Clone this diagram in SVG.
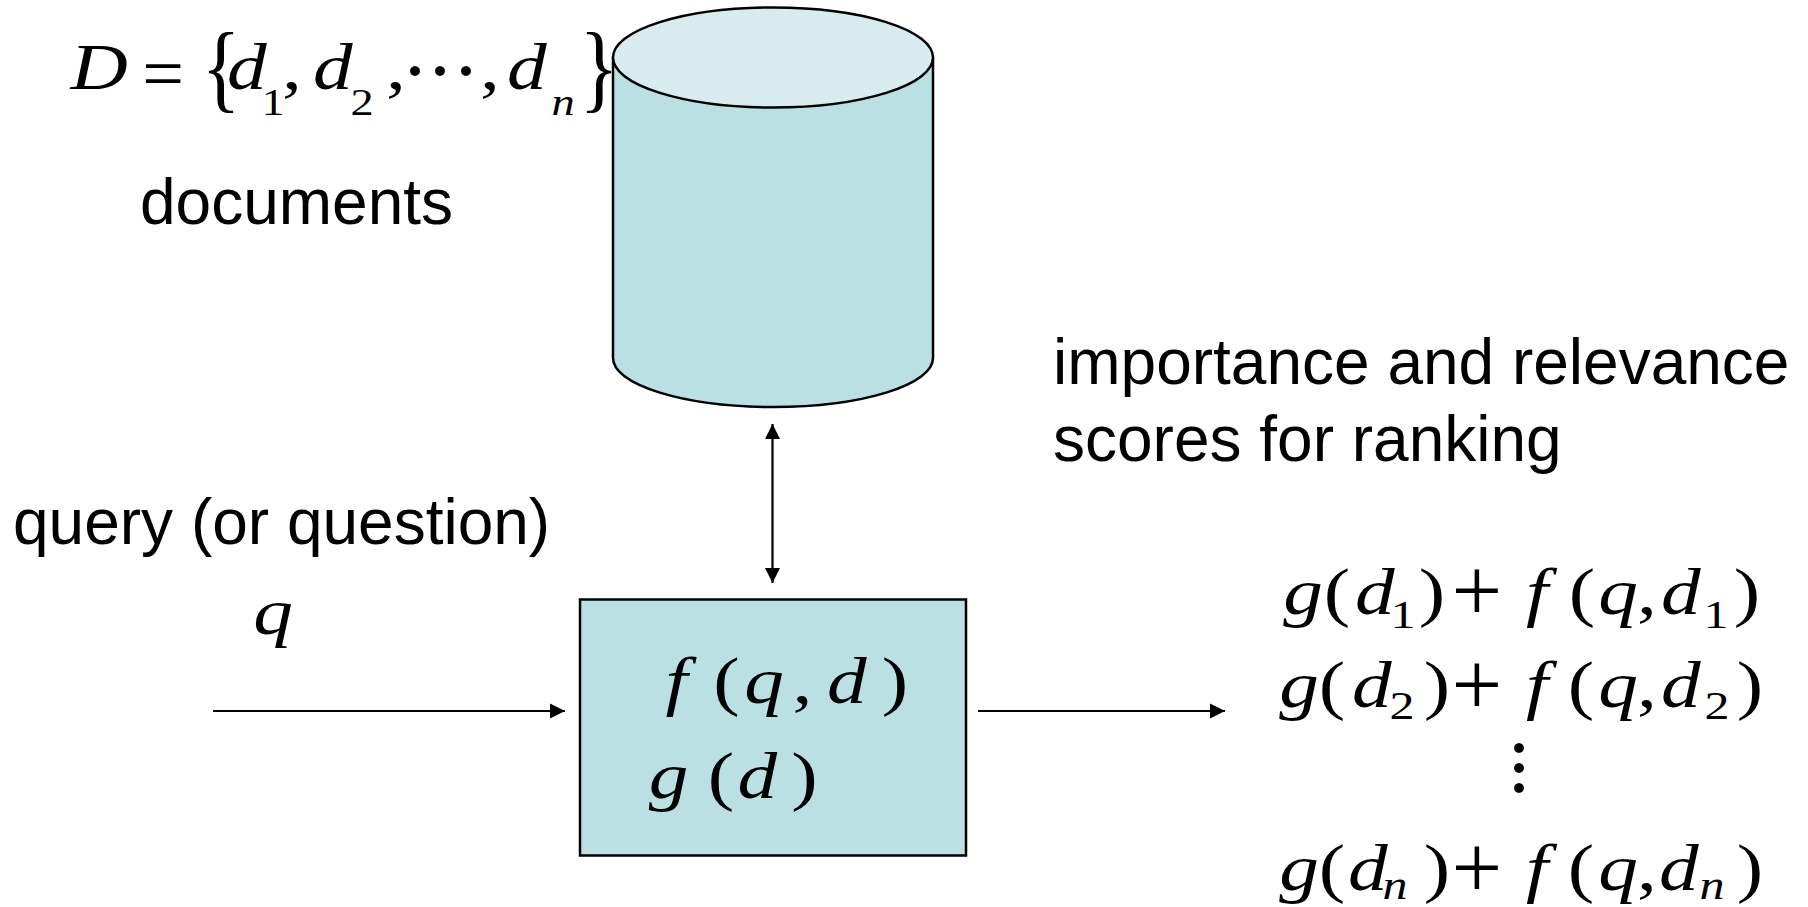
<svg xmlns="http://www.w3.org/2000/svg" width="1808" height="907" viewBox="0 0 1808 907">
<style>
.lbl{font-family:"Liberation Sans",Arial,sans-serif;font-size:64px;fill:#000}
.m{font-family:"Liberation Serif","Times New Roman",serif;font-size:65px;fill:#000;text-anchor:middle}
.w{transform-box:fill-box;transform-origin:center;transform:scaleX(1.22)}
.i{font-style:italic}
.s{font-size:41px}
.ds{font-size:38px}
.pl{font-size:90px}
.dot{font-size:84px}
.shape{stroke:#000;stroke-width:2.5}
.conn{stroke:#000;stroke-width:2.2;fill:none}
</style>
<defs>
<marker id="ah" viewBox="0 0 10 10" refX="10" refY="5" markerWidth="15" markerHeight="16" markerUnits="userSpaceOnUse" orient="auto-start-reverse">
<path d="M0,0 L10,5 L0,10 Z" fill="#000"/>
</marker>
</defs>
<rect width="1808" height="907" fill="#fff"/>

<g id="documents-db">
<path class="shape" fill="#BAE0E3" d="M613,58 L613,358 A160,49 0 0 0 933,358 L933,58 Z"/>
<ellipse class="shape" fill="#D8ECEF" cx="773" cy="57.5" rx="160" ry="50"/>
</g>

<g id="doc-set-label">
<text class="m i w" x="99" y="89">D</text>
<text class="m" x="163" y="97.5" style="font-size:74px">=</text>
<text class="m" transform="translate(221,75.5) scale(1.25,1.5)" x="0" y="16.5">{</text>
<text class="m i w" x="247" y="89">d</text>
<text class="m ds w" x="273" y="115">1</text>
<text class="m w" x="292" y="89">,</text>
<text class="m i w" x="333" y="89">d</text>
<text class="m ds w" x="362" y="115">2</text>
<text class="m w" x="396" y="89">,</text>
<text class="m dot"><tspan x="415" y="99">·</tspan><tspan x="440" y="99">·</tspan><tspan x="466" y="99">·</tspan></text>
<text class="m w" x="490" y="89">,</text>
<text class="m i w" x="527" y="89">d</text>
<text class="m i ds w" x="563" y="115">n</text>
<text class="m" transform="translate(599,75.5) scale(1.25,1.5)" x="0" y="16.5">}</text>
<text class="lbl" x="140" y="224">documents</text>
</g>

<g id="scores-label">
<text class="lbl" x="1053" y="384">importance and relevance</text>
<text class="lbl" x="1053" y="461">scores for ranking</text>
</g>

<g id="query-label">
<text class="lbl" x="13" y="544">query (or question)</text>
<text class="m i w" x="273" y="634">q</text>
</g>

<g id="ranker">
<rect class="shape" fill="#BAE0E3" x="580" y="599.5" width="386" height="256"/>
<text class="m i w" x="677.5" y="703">f</text>
<text class="m w" x="726.5" y="703">(</text>
<text class="m i w" x="764" y="703">q</text>
<text class="m w" x="802.5" y="703">,</text>
<text class="m i w" x="847" y="703">d</text>
<text class="m w" x="895" y="703">)</text>
<text class="m i w" x="668.5" y="798">g</text>
<text class="m w" x="721" y="798">(</text>
<text class="m i w" x="757.5" y="798">d</text>
<text class="m w" x="804.5" y="798">)</text>
</g>

<g id="results">
<g id="row1">
<text class="m i w" x="1303" y="614">g</text>
<text class="m w" x="1337" y="614">(</text>
<text class="m i w" x="1375" y="614">d</text>
<text class="m s w" x="1403" y="628">1</text>
<text class="m w" x="1432" y="614">)</text>
<text class="m pl" x="1477" y="621">+</text>
<text class="m i w" x="1538" y="614">f</text>
<text class="m w" x="1582" y="614">(</text>
<text class="m i w" x="1618" y="614">q</text>
<text class="m w" x="1647" y="614">,</text>
<text class="m i w" x="1681" y="614">d</text>
<text class="m s w" x="1716" y="628">1</text>
<text class="m w" x="1747" y="614">)</text>
</g>
<g id="row2">
<text class="m i w" x="1299" y="707">g</text>
<text class="m w" x="1332" y="707">(</text>
<text class="m i w" x="1372" y="707">d</text>
<text class="m s w" x="1402" y="719">2</text>
<text class="m w" x="1437" y="707">)</text>
<text class="m pl" x="1477" y="715">+</text>
<text class="m i w" x="1538" y="707">f</text>
<text class="m w" x="1581" y="707">(</text>
<text class="m i w" x="1618" y="707">q</text>
<text class="m w" x="1647" y="707">,</text>
<text class="m i w" x="1681" y="707">d</text>
<text class="m s w" x="1717" y="719">2</text>
<text class="m w" x="1750" y="707">)</text>
</g>
<text id="vdots" class="m dot"><tspan x="1519" y="776">·</tspan><tspan x="1519" y="796">·</tspan><tspan x="1519" y="816">·</tspan></text>
<g id="rown">
<text class="m i w" x="1299" y="890">g</text>
<text class="m w" x="1332" y="890">(</text>
<text class="m i w" x="1368" y="890">d</text>
<text class="m i s w" x="1395" y="899">n</text>
<text class="m w" x="1437" y="890">)</text>
<text class="m pl" x="1477" y="898">+</text>
<text class="m i w" x="1538" y="890">f</text>
<text class="m w" x="1581" y="890">(</text>
<text class="m i w" x="1618" y="890">q</text>
<text class="m w" x="1647" y="890">,</text>
<text class="m i w" x="1679" y="890">d</text>
<text class="m i s w" x="1712" y="899">n</text>
<text class="m w" x="1750" y="890">)</text>
</g>
</g>

<g id="connectors">
<line class="conn" x1="213" y1="711" x2="565" y2="711" marker-end="url(#ah)"/>
<line class="conn" x1="978" y1="711" x2="1225" y2="711" marker-end="url(#ah)"/>
<line class="conn" x1="772.5" y1="424" x2="772.5" y2="583" marker-start="url(#ah)" marker-end="url(#ah)"/>
</g>
</svg>
